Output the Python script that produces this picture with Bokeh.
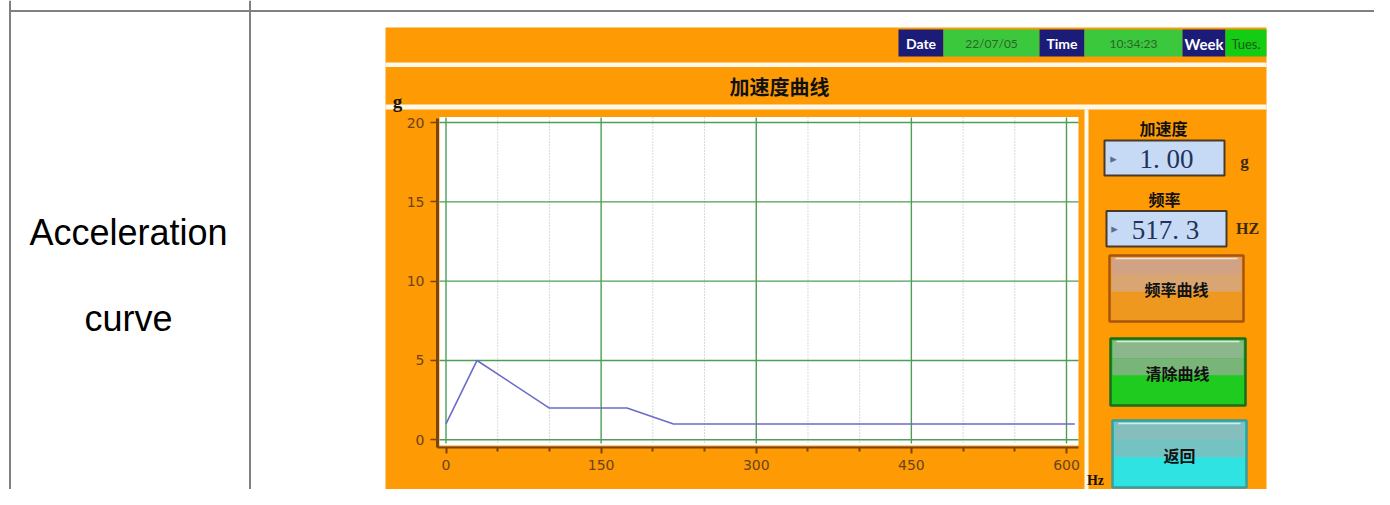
from bokeh.plotting import figure
from bokeh.models import Range1d, LinearAxis, FixedTicker
from bokeh.core.properties import value
from bokeh.embed import file_html
from bokeh.resources import INLINE

# ---------------- data ----------------
freq_hz = [0, 30, 100, 175, 220, 608]
accel_g = [1, 5, 2, 2, 1, 1]
x_major_ticks = [0, 150, 300, 450, 600]
x_minor_ticks = [50, 100, 200, 250, 350, 400, 500, 550]
y_major_ticks = [0, 5, 10, 15, 20]
row_label = ["Acceleration", "curve"]
title_text = "加速度曲线"
status_labels = ["Date", "Time", "Week"]
status_values = ["22/07/05", "10:34:23", "Tues."]
accel_caption = "加速度"
freq_caption = "频率"
accel_reading = "1. 00"
freq_reading = "517. 3"
button_labels = ["频率曲线", "清除曲线", "返回"]

# ---------------- layout (picture pixels) ----------------
W, H = 1374, 489
X0, Y0 = 0, 0          # picture coordinate of the figure's top-left corner
HZ_PX0, HZ_PX600 = 445.5, 1066.0
G_PY0, G_PY20 = 439.3, 122.0
kx = (HZ_PX600 - HZ_PX0) / 600.0
ky = (G_PY0 - G_PY20) / 20.0


def hz_at(px):
    return (px - HZ_PX0) / kx


def g_at(py):
    return (G_PY0 - py) / ky


ORANGE = "#FD9A04"
CREAM = "#FFF9EC"
NAVY = "#1B1B78"
GREEN_BOX = "#3CC83C"
BROWN = "#7A4312"
TICK_TXT = "#6B4419"
GRID_G = "#4E9E56"
CJK = "Noto Sans CJK SC"

p = figure(width=W, height=H, output_backend="svg", toolbar_location=None,
           x_range=Range1d(hz_at(X0), hz_at(X0 + W)),
           y_range=Range1d(g_at(Y0 + H), g_at(Y0)),
           min_border=0, x_axis_type=None, y_axis_type=None)
p.extra_x_ranges = {"px": Range1d(X0, X0 + W)}
p.extra_y_ranges = {"py": Range1d(Y0 + H, Y0)}
p.outline_line_color = None
p.background_fill_color = "white"
p.border_fill_color = "white"

PX = dict(x_range_name="px", y_range_name="py")


def box(l, t, r, b, fill, line=None, lw=1.0):
    p.quad(left=[l], right=[r], top=[t], bottom=[b], fill_color=fill,
           line_color=line, line_width=lw, **PX)


def txt(x, y, s, size, color, font, style="normal", align="center"):
    p.text(x=[x], y=[y], text=[s], text_font=value(font),
           text_font_size=f"{size}px", text_color=color,
           text_font_style=style, text_align=align, text_baseline="middle", **PX)


# table grid
p.segment(x0=[9, 9.5, 249.5], y0=[10.5, 0, 0], x1=[1390, 9.5, 249.5], y1=[10.5, 505, 505],
          line_color="#808080", line_width=2, **PX)
txt(128, 232, row_label[0], 36, "#000000", "Liberation Sans")
txt(128, 318, row_label[1], 36, "#000000", "Liberation Sans")

# HMI panel
box(385, 27, 1266, 494, ORANGE)
box(385, 62, 1266, 66.5, CREAM)
box(385, 104, 1266, 109, CREAM)
box(1084, 109, 1088, 494, CREAM)

# status bar
box(898, 29, 943, 56, NAVY)
box(943, 29, 1039, 56, GREEN_BOX)
box(1039, 29, 1084, 56, NAVY)
box(1084, 29, 1182, 56, GREEN_BOX)
box(1182, 29, 1225, 56, NAVY)
box(1225, 29, 1266, 56, "#14CC14")
txt(920.5, 43, status_labels[0], 14, "white", "Lato", "bold")
txt(991, 42.5, status_values[0], 12, "#2A662A", "Lato")
txt(1061.5, 43, status_labels[1], 14, "white", "Lato", "bold")
txt(1133, 42.5, status_values[1], 12, "#2A662A", "Lato")
txt(1203.5, 43, status_labels[2], 15, "white", "Lato", "bold")
txt(1245.5, 43, status_values[2], 13, "#1A5A1A", "Lato")

# title
txt(779, 86, title_text, 20, "#111111", CJK, "bold")

# chart area
box(439, 116.5, 1078, 445, "white")
p.segment(x0=x_minor_ticks, x1=x_minor_ticks,
          y0=[g_at(117)] * len(x_minor_ticks), y1=[g_at(443)] * len(x_minor_ticks),
          line_color="#A9B9B0", line_width=1, line_dash="1 2")
p.segment(x0=x_major_ticks, x1=x_major_ticks,
          y0=[g_at(117)] * len(x_major_ticks), y1=[g_at(443)] * len(x_major_ticks),
          line_color=GRID_G, line_width=1.4)
p.segment(x0=[hz_at(439)] * len(y_major_ticks), x1=[hz_at(1078)] * len(y_major_ticks),
          y0=y_major_ticks, y1=y_major_ticks,
          line_color=GRID_G, line_width=1.4)
p.line(freq_hz, accel_g, line_color="#6B6BCB", line_width=1.6)

xaxis = LinearAxis(ticker=FixedTicker(ticks=x_major_ticks, minor_ticks=x_minor_ticks),
                   fixed_location=g_at(447), bounds=(hz_at(437), hz_at(1078)),
                   axis_line_color=BROWN, axis_line_width=2,
                   major_tick_line_color=BROWN, major_tick_line_width=2,
                   major_tick_out=6, major_tick_in=0,
                   minor_tick_line_color=BROWN, minor_tick_line_width=2,
                   minor_tick_out=4, minor_tick_in=0,
                   major_label_text_font="DejaVu Sans", major_label_text_font_size="14px",
                   major_label_text_color=TICK_TXT, major_label_standoff=6)
p.add_layout(xaxis, "below")
yaxis = LinearAxis(ticker=FixedTicker(ticks=y_major_ticks, minor_ticks=[]),
                   fixed_location=hz_at(437), bounds=(g_at(447), g_at(118)),
                   axis_line_color=BROWN, axis_line_width=3,
                   major_tick_line_color=BROWN, major_tick_line_width=1.5,
                   major_tick_out=7, major_tick_in=0,
                   minor_tick_line_color=None,
                   major_label_text_font="DejaVu Sans", major_label_text_font_size="14px",
                   major_label_text_color=TICK_TXT, major_label_standoff=6)
p.add_layout(yaxis, "left")

txt(397, 101, "g", 19, "#1A1208", "Liberation Serif", "bold")
txt(1095, 480, "Hz", 14, "#1A1208", "Liberation Serif", "bold")

# right panel readouts
txt(1163, 127, accel_caption, 16, "#111111", CJK, "bold")
box(1104, 140, 1224, 175, "#C6DAF6", "#4A3A2A", 2)
txt(1113, 158, "▸", 13, "#5A6E90", "DejaVu Sans")
txt(1166, 158, accel_reading, 27, "#22335A", "Liberation Serif")
txt(1244, 161, "g", 17, "#3A2A10", "Liberation Serif", "bold")

txt(1164, 198, freq_caption, 16, "#111111", CJK, "bold")
box(1106, 210.5, 1226, 246, "#C6DAF6", "#4A3A2A", 2)
txt(1114, 228, "▸", 13, "#5A6E90", "DejaVu Sans")
txt(1165, 229, freq_reading, 27, "#22335A", "Liberation Serif")
txt(1247, 228, "HZ", 16, "#3A2A10", "Liberation Serif", "bold")


def button(l, t, r, b, border, top_c, mid_c, bot_c, label, cx):
    box(l, t, r, b, bot_c, border, 2.5)
    h = b - t
    box(l + 2, t + 2, r - 2, t + h * 0.30, top_c)
    box(l + 2, t + h * 0.30, r - 2, t + h * 0.55, mid_c)
    p.segment(x0=[l + 6], y0=[t + 3], x1=[r - 6], y1=[t + 3], line_color="#FFFFFF",
              line_alpha=0.7, line_width=1.5, **PX)
    txt(cx, (t + b) / 2 + 0.5, label, 16, "#111111", CJK, "bold")


button(1109, 255, 1243, 321, "#A8540E", "#D2A285", "#D9A672", "#EE9820", button_labels[0], 1176)
button(1110, 338, 1245, 405, "#1C6C1C", "#8CB78C", "#79B479", "#1ECB1E", button_labels[1], 1177)
button(1112, 420, 1246, 487, "#3A9C9C", "#86BDBD", "#74C2C2", "#30E3E3", button_labels[2], 1179)

open("out.html", "w").write(file_html(p, INLINE))
